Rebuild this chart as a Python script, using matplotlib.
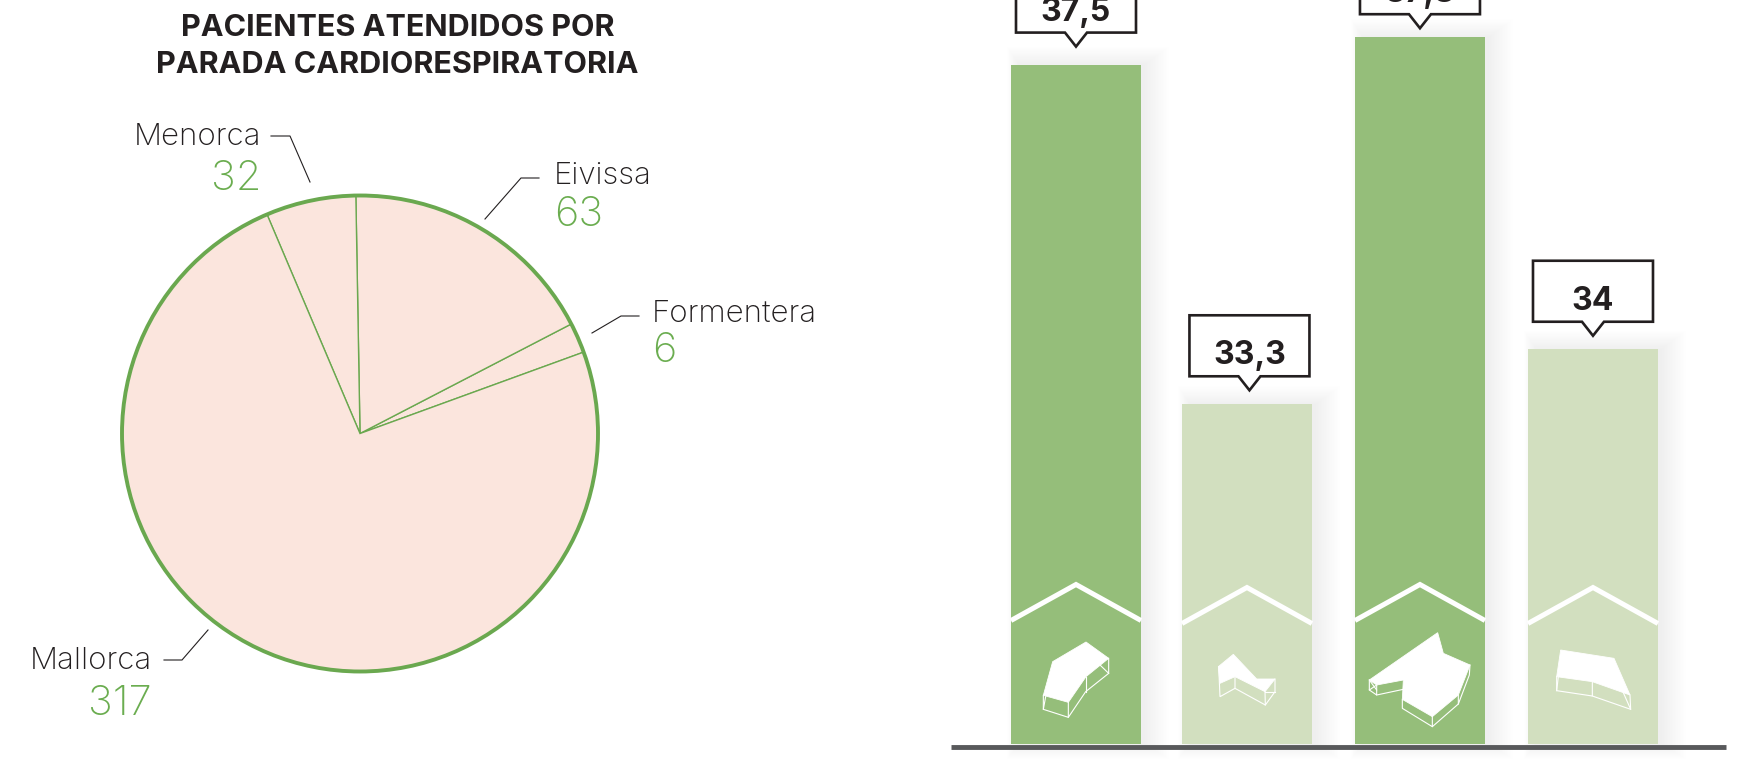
import matplotlib
matplotlib.use("Agg")
import matplotlib.pyplot as plt
from matplotlib.patches import Polygon, Rectangle, Circle

plt.rcParams['font.family'] = ['Inter', 'Lato', 'DejaVu Sans']

# ---- data ----
islands = ['Formentera', 'Eivissa', 'Menorca', 'Mallorca']
patients = [6, 63, 32, 317]
# the slices in the reference are not drawn to scale with the printed counts:
# these are the shares as they appear in the picture (degrees)
slice_shares = [7.4, 63.6, 22.0, 267.0]

bar_values = [37.5, 33.28, 37.84, 33.97]
bar_labels = ['37,5', '33,3', '37,8', '34']
bar_colors = ['#95BE7A', '#D2DFBF', '#95BE7A', '#D2DFBF']
title_lines = ['PACIENTES ATENDIDOS POR', 'PARADA CARDIORESPIRATORIA']

W, H = 1737, 781
INK = '#231F20'
GREEN = '#6AA84F'
TEXT_GREEN = '#6BAD50'

fig = plt.figure(figsize=(W / 100, H / 100), dpi=100, facecolor='white')


def axes_px(x0, y0, x1, y1, **kw):
    """axes from pixel box, y measured from the top of the image"""
    return fig.add_axes([x0 / W, 1 - y1 / H, (x1 - x0) / W, (y1 - y0) / H], **kw)


# ---- pie ----
cx, cy, r = 360, 433.5, 238
pie_ax = axes_px(cx - r, cy - r, cx + r, cy + r)
pie_ax.pie(slice_shares, startangle=20, counterclock=True, radius=1,
           colors=['#FBE5DD'] * 4,
           wedgeprops=dict(edgecolor=GREEN, linewidth=1.0))
pie_ax.set_xlim(-1, 1)
pie_ax.set_ylim(-1, 1)
pie_ax.add_patch(Circle((0, 0), 1, fill=False, edgecolor=GREEN, linewidth=2.8, clip_on=False))
pie_ax.axis('off')

# ---- bars ----
PX_X = 172.33
PX_Y = 80.5
base = 29.06
AX_L, AX_R = 951, 1726
bar_ax = axes_px(AX_L, 0, AX_R, 746.5)
bar_ax.set_xlim((AX_L - 1076) / PX_X, (AX_R - 1076) / PX_X)
bar_ax.set_ylim(base - 2.5 / PX_Y, base + 744 / PX_Y)
positions = [0, 0.992, 1.996, 3]
bar_w = 130 / PX_X

# soft shadow behind every bar, mostly towards the right
for xpos, val in zip(positions, bar_values):
    for k in range(0, 32, 2):
        left = xpos - bar_w / 2 + (8 - k * 0.4) / PX_X
        right = xpos + bar_w / 2 + (4 + k * 0.8) / PX_X
        bottom = base - (k * 0.5) / PX_Y
        top = val + (k * 0.6) / PX_Y
        bar_ax.add_patch(Rectangle((left, bottom), right - left, top - bottom,
                                   facecolor='black', edgecolor='none',
                                   alpha=0.003, zorder=1, clip_on=False))

bar_ax.bar(positions, [v - base for v in bar_values], bottom=base, width=bar_w,
           color=bar_colors, zorder=2)
bar_ax.set_xticks([])
bar_ax.set_yticks([])
for side in ('top', 'left', 'right'):
    bar_ax.spines[side].set_visible(False)
bar_ax.spines['bottom'].set_linewidth(3.5)
bar_ax.spines['bottom'].set_color('#58595B')
bar_ax.spines['bottom'].set_capstyle('butt')
bar_ax.spines['bottom'].set_zorder(5)
bar_ax.patch.set_alpha(0)

# ---- overlay in image pixels ----
ov = axes_px(0, 0, W, H)
ov.set_xlim(0, W)
ov.set_ylim(H, 0)
ov.axis('off')
ov.patch.set_alpha(0)


def bar_top_px(i):
    xd, yd = bar_ax.transData.transform((positions[i], bar_values[i]))
    return ov.transData.inverted().transform((xd, yd))


# callouts
tip_gaps = [18, 14, 9, 13]
callout_shift = [0, 2.5, 0, 0]
box_w, box_h, notch_w, notch_d = 120, 61, 11, 14
for i, label in enumerate(bar_labels):
    x, top = bar_top_px(i)
    x += callout_shift[i]
    tip = top - tip_gaps[i]
    bot = tip - notch_d
    pts = [(x - box_w / 2, bot), (x - box_w / 2, bot - box_h), (x + box_w / 2, bot - box_h),
           (x + box_w / 2, bot), (x + notch_w, bot), (x, tip), (x - notch_w, bot)]
    ov.add_patch(Polygon(pts, closed=True, facecolor='white', edgecolor=INK,
                         linewidth=1.9, joinstyle='miter', clip_on=False))
    ov.text(x, bot - 12, label, ha='center', va='baseline', fontsize=23,
            fontweight='bold', color=INK)

# house chevrons
for i in range(len(positions)):
    x, _ = bar_top_px(i)
    dark = bar_colors[i] == '#95BE7A'
    apex, foot = (584.5, 620.5) if dark else (587.5, 623.5)
    ov.plot([x - 65, x, x + 65], [foot, apex, foot], color='white', linewidth=3.6,
            solid_joinstyle='miter', solid_capstyle='butt')


def icon(ox, oy, top, lines):
    conv = lambda seq: [(ox + a / 3, oy + b / 3) for a, b in seq]
    ov.add_patch(Polygon(conv(top), closed=True, facecolor='white', edgecolor='white', linewidth=0.6))
    for ln in lines:
        pts = conv(ln)
        ov.plot([p[0] for p in pts], [p[1] for p in pts], color='white', linewidth=0.8,
                solid_joinstyle='miter')


icon(980, 570,
     [(218, 275), (318, 216), (386, 265), (318, 320), (265, 397), (190, 376)],
     [[(190, 376), (190, 418), (265, 442), (265, 397)],
      [(265, 442), (317, 365), (386, 310), (386, 265)],
      [(317, 320), (317, 365)], [(190, 418), (197, 380)], [(360, 285), (386, 310)]])
icon(980, 570,
     [(715, 290), (760, 253), (830, 327), (885, 327), (855, 365), (765, 320), (720, 340)],
     [[(716, 290), (720, 380), (765, 355), (765, 320)],
      [(765, 355), (856, 405), (885, 365), (885, 327)],
      [(855, 365), (856, 405)], [(855, 365), (885, 365)]])
icon(1340, 570,
     [(88, 330), (293, 188), (310, 250), (390, 285), (355, 375), (277, 440), (187, 388), (190, 330), (110, 345)],
     [[(88, 330), (88, 360), (110, 375), (110, 345)],
      [(110, 375), (190, 358)], [(88, 360), (110, 345)], [(88, 330), (110, 360)],
      [(187, 388), (187, 415), (277, 470), (277, 440)],
      [(277, 470), (355, 402), (355, 375)],
      [(355, 402), (388, 315), (390, 285)]])
icon(1340, 570,
     [(662, 240), (822, 265), (870, 375), (757, 335), (650, 320)],
     [[(650, 320), (650, 362), (757, 378), (757, 335)],
      [(757, 378), (872, 418), (870, 375)],
      [(655, 320), (650, 362)], [(850, 368), (872, 418)]])

# title
for line, y in zip(title_lines, (36, 73)):
    ov.text(397.5, y, line, ha='center', va='baseline', fontsize=22,
            fontweight='bold', color=INK)

# pie labels
label_style = {
    'Menorca': dict(x=261, y1=145, y2=190, ha='right', lead=[(271, 136), (290, 136), (310, 182)]),
    'Eivissa': dict(x=554, y1=184, y2=226, ha='left', lead=[(539, 178), (521, 178), (485, 219)]),
    'Formentera': dict(x=652, y1=322, y2=362, ha='left', lead=[(639, 316), (621, 316), (592, 333)]),
    'Mallorca': dict(x=152, y1=669, y2=715, ha='right', lead=[(164, 660), (182, 660), (208, 630)]),
}
for name, count in zip(islands, patients):
    s = label_style[name]
    ov.text(s['x'], s['y1'], name, ha=s['ha'], va='baseline', fontsize=22.5,
            fontweight='light', color=INK)
    ov.text(s['x'], s['y2'], str(count), ha=s['ha'], va='baseline', fontsize=30,
            fontweight='light', color=TEXT_GREEN)
    ov.plot([p[0] for p in s['lead']], [p[1] for p in s['lead']], color=INK, linewidth=0.8,
            solid_joinstyle='miter')

fig.savefig('out.png', dpi=100, facecolor='white')
